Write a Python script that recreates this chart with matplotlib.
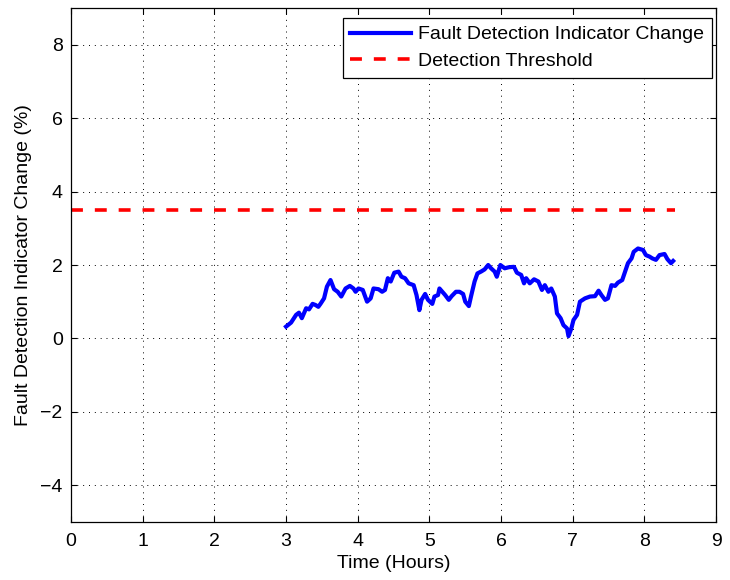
import numpy as np
import matplotlib.pyplot as plt

plt.rcParams['font.family'] = ['Liberation Sans', 'DejaVu Sans']

# fault detection indicator change (%) over time (hours)
time_h = [3.00, 3.07, 3.14, 3.18, 3.22, 3.28, 3.32, 3.37, 3.41, 3.45, 3.48, 3.53,
          3.57, 3.62, 3.67, 3.72, 3.77, 3.83, 3.89, 3.94, 3.97, 4.01, 4.07, 4.13,
          4.18, 4.22, 4.29, 4.34, 4.38, 4.42, 4.46, 4.51, 4.57, 4.61, 4.66, 4.71,
          4.78, 4.82, 4.86, 4.89, 4.94, 4.98, 5.04, 5.07, 5.12, 5.14, 5.18, 5.22,
          5.27, 5.31, 5.37, 5.42, 5.47, 5.50, 5.55, 5.58, 5.63, 5.67, 5.72, 5.77,
          5.82, 5.86, 5.91, 5.94, 5.99, 6.05, 6.11, 6.18, 6.22, 6.28, 6.32, 6.35,
          6.40, 6.46, 6.52, 6.57, 6.61, 6.66, 6.70, 6.75, 6.78, 6.83, 6.87, 6.92,
          6.94, 6.98, 7.01, 7.06, 7.10, 7.17, 7.24, 7.31, 7.36, 7.40, 7.45, 7.49,
          7.54, 7.59, 7.63, 7.69, 7.73, 7.77, 7.82, 7.85, 7.91, 7.98, 8.02, 8.07,
          8.11, 8.16, 8.21, 8.28, 8.32, 8.37, 8.40]
indicator = [0.32, 0.43, 0.64, 0.70, 0.55, 0.82, 0.79, 0.94, 0.91, 0.86, 0.94, 1.09,
             1.41, 1.59, 1.34, 1.27, 1.14, 1.36, 1.43, 1.36, 1.27, 1.36, 1.32, 1.00,
             1.09, 1.36, 1.34, 1.27, 1.32, 1.64, 1.55, 1.79, 1.82, 1.68, 1.64, 1.50,
             1.45, 1.18, 0.77, 1.05, 1.21, 1.05, 0.94, 1.14, 1.18, 1.36, 1.27, 1.18,
             1.05, 1.15, 1.27, 1.27, 1.21, 1.00, 0.88, 1.14, 1.55, 1.77, 1.82, 1.88,
             2.00, 1.91, 1.82, 1.68, 2.00, 1.91, 1.94, 1.95, 1.79, 1.73, 1.50, 1.64,
             1.50, 1.61, 1.55, 1.32, 1.45, 1.27, 1.36, 1.14, 0.68, 0.55, 0.36, 0.27,
             0.06, 0.27, 0.50, 0.64, 1.00, 1.09, 1.14, 1.15, 1.30, 1.18, 1.05, 1.09,
             1.45, 1.43, 1.52, 1.59, 1.82, 2.05, 2.18, 2.36, 2.45, 2.41, 2.27, 2.23,
             2.18, 2.14, 2.27, 2.30, 2.16, 2.05, 2.11]

threshold_time = [0, 8.42]
threshold_level = [3.5, 3.5]

fig = plt.figure(figsize=(7.3, 5.8), dpi=100)
ax = fig.add_axes([0.0973, 0.1005, 0.8837, 0.8852])

ax.plot(time_h, indicator, color=(0, 0, 1), linewidth=3.0,
        solid_joinstyle='round', label='Fault Detection Indicator Change')
ax.plot(threshold_time, threshold_level, color=(1, 0, 0), linewidth=2.6,
        linestyle=(0, (3.3, 3.3)), label='Detection Threshold')

ax.set_xlim(0, 9)
ax.set_ylim(-5, 9)
ax.set_xticks(range(0, 10))
ax.set_yticks([-4, -2, 0, 2, 4, 6, 8])
ax.tick_params(direction='in', top=True, right=True, labelsize=14,
               length=4, width=0.8, pad=6)
ax.tick_params(axis='x', pad=8)
ax.grid(True, color='black', linestyle=(0, (1, 5)), linewidth=0.7)
for s in ax.spines.values():
    s.set_linewidth(0.9)

ax.set_xlabel('Time (Hours)', fontsize=14, labelpad=4)
ax.set_ylabel('Fault Detection Indicator Change (%)', fontsize=14, labelpad=6)

leg = ax.legend(loc='upper right', bbox_to_anchor=(0.9938, 0.981), fontsize=14,
                fancybox=False, framealpha=1, edgecolor='black',
                handlelength=3.1, handletextpad=0.4, borderpad=0.4,
                labelspacing=0.45, borderaxespad=0)
leg.get_frame().set_linewidth(0.9)

fig.savefig('out.png', dpi=100)
